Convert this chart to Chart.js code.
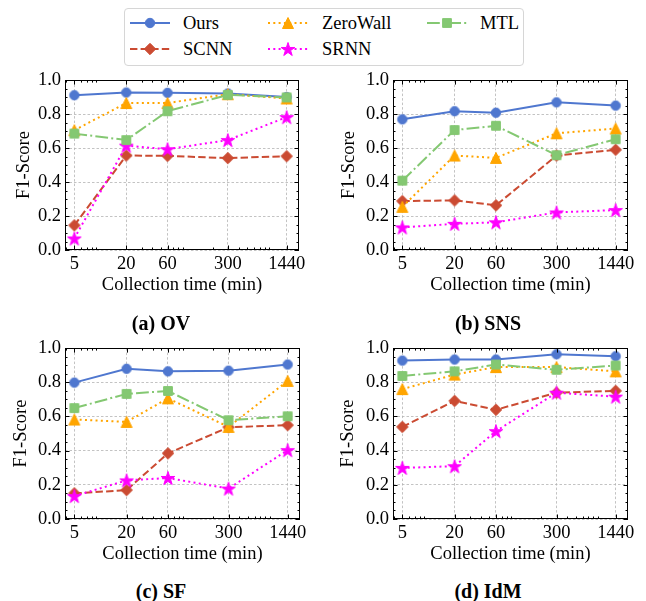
<!DOCTYPE html>
<html><head><meta charset="utf-8">
<script src="https://cdn.jsdelivr.net/npm/chart.js@4"></script>
<style>
body{margin:0;background:#fff;width:646px;height:601px;position:relative;overflow:hidden;font-family:"Liberation Serif","Times New Roman",serif;color:#000;}
canvas.cv{position:absolute;}
.cap{position:absolute;font-weight:bold;font-size:20px;transform:translate(-50%,-50%);white-space:nowrap;line-height:22px;}
#legend{position:absolute;left:124px;top:8px;width:400px;height:58px;border:1px solid #d6d6d6;border-radius:4px;box-sizing:border-box;background:#fff;}
.lt{position:absolute;font-size:18.5px;line-height:22px;transform:translateY(-50%);white-space:nowrap;}
canvas.ls{position:absolute;}
</style></head><body>
<div id="legend"></div>
<canvas class="cv" id="cA"></canvas>
<canvas class="cv" id="cB"></canvas>
<canvas class="cv" id="cC"></canvas>
<canvas class="cv" id="cD"></canvas>
<div class="cap" style="left:161px;top:323px">(a) OV</div>
<div class="cap" style="left:488px;top:323px">(b) SNS</div>
<div class="cap" style="left:161px;top:591px">(c) SF</div>
<div class="cap" style="left:488px;top:591px">(d) IdM</div>
<script>
// ---------- data ----------
const xValues = [5, 20, 60, 300, 1440];
const xTickLabels = ['5', '20', '60', '300', '1440'];
const yTicks = [0, 0.2, 0.4, 0.6, 0.8, 1.0];
const seriesNames = ['Ours', 'SCNN', 'ZeroWall', 'SRNN', 'MTL'];

const OV_Ours     = [0.911, 0.927, 0.925, 0.921, 0.900];
const OV_SCNN     = [0.145, 0.556, 0.554, 0.541, 0.552];
const OV_ZeroWall = [0.705, 0.865, 0.865, 0.917, 0.892];
const OV_SRNN     = [0.068, 0.614, 0.593, 0.647, 0.782];
const OV_MTL      = [0.685, 0.647, 0.817, 0.913, 0.898];

const SNS_Ours     = [0.769, 0.817, 0.808, 0.869, 0.850];
const SNS_SCNN     = [0.288, 0.292, 0.263, 0.556, 0.590];
const SNS_ZeroWall = [0.254, 0.556, 0.542, 0.687, 0.715];
const SNS_SRNN     = [0.133, 0.154, 0.163, 0.221, 0.235];
const SNS_MTL      = [0.408, 0.706, 0.731, 0.558, 0.652];

const SF_Ours     = [0.798, 0.879, 0.864, 0.868, 0.904];
const SF_SCNN     = [0.150, 0.169, 0.384, 0.537, 0.549];
const SF_ZeroWall = [0.582, 0.568, 0.706, 0.539, 0.808];
const SF_SRNN     = [0.134, 0.226, 0.240, 0.178, 0.403];
const SF_MTL      = [0.649, 0.732, 0.749, 0.578, 0.601];

const IdM_Ours     = [0.927, 0.933, 0.933, 0.964, 0.952];
const IdM_SCNN     = [0.539, 0.691, 0.639, 0.739, 0.750];
const IdM_ZeroWall = [0.760, 0.845, 0.889, 0.889, 0.864];
const IdM_SRNN     = [0.299, 0.309, 0.514, 0.739, 0.716];
const IdM_MTL      = [0.837, 0.864, 0.904, 0.873, 0.898];

// ---------- styles ----------
const STYLE = {
  Ours:     {color: '#4F77CF', dash: [],              marker: 'circle'},
  SCNN:     {color: '#CB4B32', dash: [7.4, 3.2],      marker: 'diamond'},
  ZeroWall: {color: '#FFA500', dash: [2, 3.3],        marker: 'triangle'},
  SRNN:     {color: '#FF00FF', dash: [2, 3.3],        marker: 'star'},
  MTL:      {color: '#84C872', dash: [12.8, 3.2, 2, 3.2], marker: 'square'}
};
const FONT = '"Liberation Serif", "Times New Roman", serif';

function drawMarker(ctx, type, x, y, color) {
  ctx.save();
  ctx.fillStyle = color; ctx.strokeStyle = color; ctx.lineWidth = 1; ctx.setLineDash([]);
  ctx.beginPath();
  if (type === 'circle') {
    ctx.arc(x, y, 4.7, 0, Math.PI * 2);
  } else if (type === 'diamond') {
    const r = 5.7;
    ctx.moveTo(x, y - r); ctx.lineTo(x + r, y); ctx.lineTo(x, y + r); ctx.lineTo(x - r, y); ctx.closePath();
  } else if (type === 'triangle') {
    const r = 5.5;
    ctx.moveTo(x, y - r); ctx.lineTo(x + r, y + r); ctx.lineTo(x - r, y + r); ctx.closePath();
  } else if (type === 'square') {
    const r = 4.4;
    ctx.rect(x - r, y - r, 2 * r, 2 * r);
  } else if (type === 'star') {
    const R = 7.2, ri = R * 0.382;
    for (let i = 0; i < 10; i++) {
      const a = -Math.PI / 2 + i * Math.PI / 5;
      const rr = i % 2 ? ri : R;
      const px = x + rr * Math.cos(a), py = y + rr * Math.sin(a) + 0.7;
      if (i === 0) ctx.moveTo(px, py); else ctx.lineTo(px, py);
    }
    ctx.closePath();
  }
  ctx.fill(); ctx.stroke();
  ctx.restore();
}

function markerImage(type, color) {
  const c = document.createElement('canvas');
  c.width = 20; c.height = 20;
  drawMarker(c.getContext('2d'), type, 10, 10, color);
  return c;
}

// ---------- legend ----------
(function buildLegend() {
  const legend = document.getElementById('legend');
  const pos = {
    Ours:     {sx: 130, tx: 183, y: 22.7},
    SCNN:     {sx: 130, tx: 183, y: 49.3},
    ZeroWall: {sx: 268, tx: 322, y: 22.7},
    SRNN:     {sx: 268, tx: 322, y: 49.3},
    MTL:      {sx: 427, tx: 480, y: 22.7}
  };
  seriesNames.forEach(name => {
    const p = pos[name], st = STYLE[name];
    const cv = document.createElement('canvas');
    cv.className = 'ls'; cv.width = 44; cv.height = 20;
    cv.style.left = (p.sx - 124 - 1 - 2) + 'px';
    cv.style.top = (p.y - 8 - 1 - 10) + 'px';
    const ctx = cv.getContext('2d');
    ctx.strokeStyle = st.color; ctx.lineWidth = 2; ctx.setLineDash(st.dash);
    ctx.beginPath(); ctx.moveTo(2, 10); ctx.lineTo(42, 10); ctx.stroke();
    drawMarker(ctx, st.marker, 22, 10, st.color);
    legend.appendChild(cv);
    const t = document.createElement('div');
    t.className = 'lt'; t.textContent = name;
    t.style.left = (p.tx - 124 - 1) + 'px';
    t.style.top = (p.y - 8 - 1) + 'px';
    legend.appendChild(t);
  });
})();

// ---------- frame & inward ticks plugin ----------
const xMinor = [4, 6, 7, 8, 9, 30, 40, 50, 70, 80, 90, 200, 400, 500, 600, 700, 800, 900];
const frameTicks = {
  id: 'frameTicks',
  afterDraw(chart) {
    const {ctx, chartArea: a, scales: {x, y}} = chart;
    ctx.save();
    ctx.strokeStyle = '#000'; ctx.lineWidth = 1; ctx.setLineDash([]);
    ctx.strokeRect(Math.round(a.left) + 0.5, Math.round(a.top) + 0.5,
                   Math.round(a.right - a.left) - 1, Math.round(a.bottom - a.top) - 1);
    ctx.beginPath();
    const tickX = (v, len) => {
      const px = Math.round(x.getPixelForValue(v)) + 0.5;
      ctx.moveTo(px, a.bottom); ctx.lineTo(px, a.bottom - len);
      ctx.moveTo(px, a.top); ctx.lineTo(px, a.top + len);
    };
    const tickY = (v, len) => {
      const py = Math.round(y.getPixelForValue(v)) + 0.5;
      ctx.moveTo(a.left, py); ctx.lineTo(a.left + len, py);
      ctx.moveTo(a.right, py); ctx.lineTo(a.right - len, py);
    };
    xValues.forEach(v => tickX(v, 4.5));
    xMinor.forEach(v => { if (v > x.min && v < x.max) tickX(v, 2.5); });
    for (let i = 0; i <= 20; i++) {
      const v = i * 0.05;
      tickY(v, i % 4 === 0 ? 4.5 : 2.5);
    }
    ctx.stroke();
    ctx.restore();
  }
};

// ---------- charts ----------
function makeChart(id, geom, data, yTitlePad) {
  const cv = document.getElementById(id);
  const w = (geom.r - geom.l) + 65 + 12;
  const h = 12 + (geom.b - geom.t) + 46;
  cv.width = w; cv.height = h;
  cv.style.left = (geom.l - 65) + 'px';
  cv.style.top = (geom.t - 12) + 'px';
  cv.style.width = w + 'px'; cv.style.height = h + 'px';
  const orders = {Ours: 4, SCNN: 3, ZeroWall: 2, SRNN: 1, MTL: 0};
  const datasets = seriesNames.map(name => {
    const st = STYLE[name];
    const img = markerImage(st.marker, st.color);
    return {
      label: name,
      data: xValues.map((xv, i) => ({x: xv, y: data[name][i]})),
      borderColor: st.color,
      backgroundColor: st.color,
      borderWidth: 2,
      borderDash: st.dash,
      borderCapStyle: 'butt',
      pointStyle: img,
      pointRadius: 5,
      pointHoverRadius: 5,
      tension: 0,
      order: orders[name],
      clip: false
    };
  });
  return new Chart(cv, {
    type: 'line',
    data: {datasets},
    plugins: [frameTicks],
    options: {
      responsive: false,
      animation: false,
      devicePixelRatio: 1,
      layout: {padding: {left: 0, right: 12, top: 12, bottom: 0}},
      plugins: {legend: {display: false}, tooltip: {enabled: false}},
      scales: {
        x: {
          type: 'logarithmic',
          min: 3.9, max: 2000,
          afterBuildTicks: s => { s.ticks = xValues.map(v => ({value: v})); },
          afterFit: s => { s.height = 46; },
          ticks: {
            autoSkip: false, maxRotation: 0, minRotation: 0, padding: 3,
            color: '#000', font: {family: FONT, size: 18.5},
            callback: (v) => xTickLabels[xValues.indexOf(v)] ?? String(v)
          },
          grid: {color: '#b4b4b4', lineWidth: 0.8, drawTicks: false},
          border: {display: false, dash: [2.5, 2]},
          title: {display: true, text: 'Collection time (min)', color: '#000',
                  font: {family: FONT, size: 18.5}, padding: {top: 0, bottom: 0}}
        },
        y: {
          min: 0, max: 1,
          afterBuildTicks: s => { s.ticks = yTicks.map(v => ({value: v})); },
          afterFit: s => { s.width = 65; },
          ticks: {
            padding: 4, color: '#000', font: {family: FONT, size: 18.5},
            callback: v => Number(v).toFixed(1)
          },
          grid: {color: '#b4b4b4', lineWidth: 0.8, drawTicks: false},
          border: {display: false, dash: [2.5, 2]},
          title: {display: true, text: 'F1-Score', color: '#000',
                  font: {family: FONT, size: 18.5}, padding: {top: yTitlePad, bottom: 0}}
        }
      }
    }
  });
}

makeChart('cA', {l: 65, t: 77, r: 299, b: 250},
  {Ours: OV_Ours, SCNN: OV_SCNN, ZeroWall: OV_ZeroWall, SRNN: OV_SRNN, MTL: OV_MTL}, 13);
makeChart('cB', {l: 393, t: 77, r: 628, b: 250},
  {Ours: SNS_Ours, SCNN: SNS_SCNN, ZeroWall: SNS_ZeroWall, SRNN: SNS_SRNN, MTL: SNS_MTL}, 10);
makeChart('cC', {l: 65, t: 345, r: 300, b: 519},
  {Ours: SF_Ours, SCNN: SF_SCNN, ZeroWall: SF_ZeroWall, SRNN: SF_SRNN, MTL: SF_MTL}, 10);
makeChart('cD', {l: 393, t: 345, r: 628, b: 519},
  {Ours: IdM_Ours, SCNN: IdM_SCNN, ZeroWall: IdM_ZeroWall, SRNN: IdM_SRNN, MTL: IdM_MTL}, 9);
</script>
</body></html>
